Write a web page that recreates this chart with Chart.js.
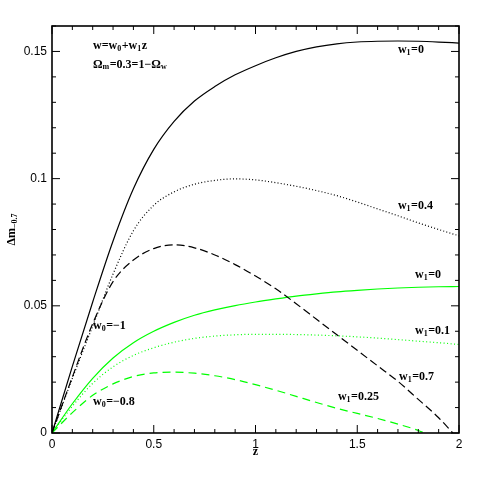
<!DOCTYPE html>
<html><head><meta charset="utf-8">
<script src="https://cdn.jsdelivr.net/npm/chart.js@4/dist/chart.umd.min.js"></script>
<style>html,body{margin:0;padding:0;background:#fff}#wrap{width:485px;height:485px}</style>
</head><body><div id="wrap"><canvas id="c" width="485" height="485"></canvas></div>
<script>
const zGrid = [0,0.1,0.2,0.3,0.4,0.5,0.6,0.7,0.8,0.9,1.0,1.1,1.2,1.3,1.4,1.5,1.6,1.7,1.8,1.9,2.0];
const blackSolid  = [0,0.0262,0.0515,0.0755,0.0960,0.1115,0.1225,0.1305,0.1362,0.1408,0.1444,0.1475,0.1500,0.1518,0.1530,0.1537,0.1540,0.1541,0.1540,0.1537,0.1533];
const blackDotted = [0,0.0215,0.042,0.0625,0.0795,0.0895,0.0948,0.0978,0.0993,0.0999,0.0995,0.0984,0.0970,0.0953,0.0933,0.0908,0.0881,0.0854,0.0826,0.0800,0.0775];
const zBlackDashed = [0,0.1,0.2,0.3,0.4,0.5,0.6,0.7,0.8,0.9,1.0,1.1,1.2,1.3,1.4,1.5,1.6,1.7,1.8,1.9,1.97];
const blackDashed = [0,0.022,0.043,0.0595,0.068,0.0725,0.074,0.0728,0.0700,0.0662,0.0617,0.0567,0.0508,0.0447,0.0386,0.0325,0.0264,0.0203,0.0132,0.0060,0];
const greenSolid  = [0,0.0115,0.0215,0.0295,0.0355,0.0400,0.0435,0.0463,0.0484,0.0501,0.0515,0.0527,0.0538,0.0547,0.0555,0.0561,0.0566,0.0570,0.0573,0.0575,0.0576];
const greenDotted = [0,0.0105,0.0195,0.026,0.0305,0.0335,0.0357,0.0372,0.0381,0.0386,0.0388,0.0388,0.0387,0.0385,0.0382,0.0378,0.0373,0.0367,0.0361,0.0355,0.0348];
const zGreenDashed = [0,0.1,0.2,0.3,0.4,0.5,0.6,0.7,0.8,0.9,1.0,1.1,1.2,1.3,1.4,1.5,1.6,1.7,1.8,1.83];
const greenDashed = [0,0.008,0.0148,0.0193,0.0222,0.0236,0.0239,0.0235,0.0225,0.0210,0.0190,0.0168,0.0144,0.0120,0.0097,0.0077,0.0057,0.0035,0.0010,0];
const xTicks = [0,0.5,1,1.5,2];
const yTicks = [0,0.05,0.1,0.15];

function pts(xs, ys){ return xs.map((x,i)=>({x:x,y:ys[i]})); }

// annotations: [segments, z, value]; segment = [text, 'n'|'s']
const notes = [
  [[['w=w','n'],['0','s'],['+w','n'],['1','s'],['z','n']], 0.2015, 0.1523],
  [[['Ω','n'],['m','s'],['=0.3=1−Ω','n'],['w','s']], 0.2015, 0.1449],
  [[['w','n'],['1','s'],['=0','n']], 1.70, 0.1505],
  [[['w','n'],['1','s'],['=0.4','n']], 1.70, 0.0894],
  [[['w','n'],['1','s'],['=0','n']], 1.784, 0.0622],
  [[['w','n'],['1','s'],['=0.1','n']], 1.784, 0.0402],
  [[['w','n'],['1','s'],['=0.7','n']], 1.705, 0.0222],
  [[['w','n'],['1','s'],['=0.25','n']], 1.405, 0.0141],
  [[['w','n'],['0','s'],['=−1','n']], 0.2015, 0.0422],
  [[['w','n'],['0','s'],['=−0.8','n']], 0.2015, 0.0123]
];
const FONT = 'bold 12px "Liberation Serif"';
const SUBFONT = 'bold 8px "Liberation Serif"';

function drawRich(ctx, segs, x, y){
  ctx.textAlign='left'; ctx.textBaseline='middle';
  let cx = x;
  for (const [t,k] of segs){
    if (k==='s'){ ctx.font=SUBFONT; ctx.fillText(t,cx,y+3); }
    else { ctx.font=FONT; ctx.fillText(t,cx,y); }
    cx += ctx.measureText(t).width + (k==='s'?0.5:0);
  }
}

const framePlugin = {
  id:'frame',
  afterDatasetsDraw(chart){
    const {ctx, chartArea:a, scales:{x, y}} = chart;
    ctx.save();
    ctx.strokeStyle='#000'; ctx.lineWidth=1.6;
    ctx.strokeRect(a.left, a.top, a.right-a.left, a.bottom-a.top);
    ctx.lineWidth=1;
    ctx.beginPath();
    for (let i=0;i<=20;i++){
      const v=i/10; const px=x.getPixelForValue(v);
      const L = (i%5===0)?8:4;
      ctx.moveTo(px,a.bottom); ctx.lineTo(px,a.bottom-L);
      ctx.moveTo(px,a.top); ctx.lineTo(px,a.top+L);
    }
    for (let i=0;i<=16;i++){
      const v=i/100; const py=y.getPixelForValue(v);
      const L = (i%5===0)?8:4;
      ctx.moveTo(a.left,py); ctx.lineTo(a.left+L,py);
      ctx.moveTo(a.right,py); ctx.lineTo(a.right-L,py);
    }
    ctx.stroke();
    ctx.fillStyle='#000';
    for (const [segs,zv,vv] of notes){
      drawRich(ctx, segs, x.getPixelForValue(zv), y.getPixelForValue(vv));
    }
    // axis titles
    ctx.font=FONT; ctx.textAlign='center'; ctx.textBaseline='middle';
    ctx.fillText('z', (a.left+a.right)/2, 452);
    ctx.translate(12, (a.top+a.bottom)/2);
    ctx.rotate(-Math.PI/2);
    ctx.font=FONT; ctx.textAlign='left';
    const w1 = ctx.measureText('Δm').width;
    ctx.font=SUBFONT;
    const w2 = ctx.measureText('−0.7').width;
    const sx = -(w1+w2)/2;
    ctx.font=FONT; ctx.fillText('Δm', sx, 0);
    ctx.font=SUBFONT; ctx.fillText('−0.7', sx+w1, 3);
    ctx.restore();
  }
};

const ds = (label, xs, ys, color, dash) => ({
  label, data: pts(xs, ys), borderColor: color, borderWidth: 1.2,
  borderDash: dash, pointRadius: 0, fill: false,
  cubicInterpolationMode: 'monotone'
});

const fmt = v => String(Math.round(v*100)/100);

new Chart(document.getElementById('c'), {
  type:'line',
  data:{ datasets:[
    ds('w0=-1, w1=0', zGrid, blackSolid, '#000', []),
    ds('w0=-1, w1=0.4', zGrid, blackDotted, '#000', [1,2.2]),
    ds('w0=-1, w1=0.7', zBlackDashed, blackDashed, '#000', [8,4]),
    ds('w0=-0.8, w1=0', zGrid, greenSolid, '#00ff00', []),
    ds('w0=-0.8, w1=0.1', zGrid, greenDotted, '#00ff00', [1,2.5]),
    ds('w0=-0.8, w1=0.25', zGreenDashed, greenDashed, '#00ff00', [8,5])
  ]},
  options:{
    responsive:false, animation:false, devicePixelRatio:1,
    layout:{padding:{left:0,bottom:0,top:26,right:26}},
    plugins:{legend:{display:false}, tooltip:{enabled:false}},
    scales:{
      x:{type:'linear', min:0, max:2,
        grid:{display:false, drawTicks:false}, border:{display:false},
        afterBuildTicks(s){ s.ticks = xTicks.map(v=>({value:v})); },
        ticks:{color:'#000', padding:4, maxRotation:0, font:{family:'Liberation Sans', size:12}, callback:fmt},
        afterFit(s){ s.height = 52; }
      },
      y:{type:'linear', min:0, max:0.16,
        grid:{display:false, drawTicks:false}, border:{display:false},
        afterBuildTicks(s){ s.ticks = yTicks.map(v=>({value:v})); },
        ticks:{color:'#000', padding:5, font:{family:'Liberation Sans', size:12}, callback:fmt},
        afterFit(s){ s.width = 52; }
      }
    }
  },
  plugins:[framePlugin]
});
</script></body></html>
